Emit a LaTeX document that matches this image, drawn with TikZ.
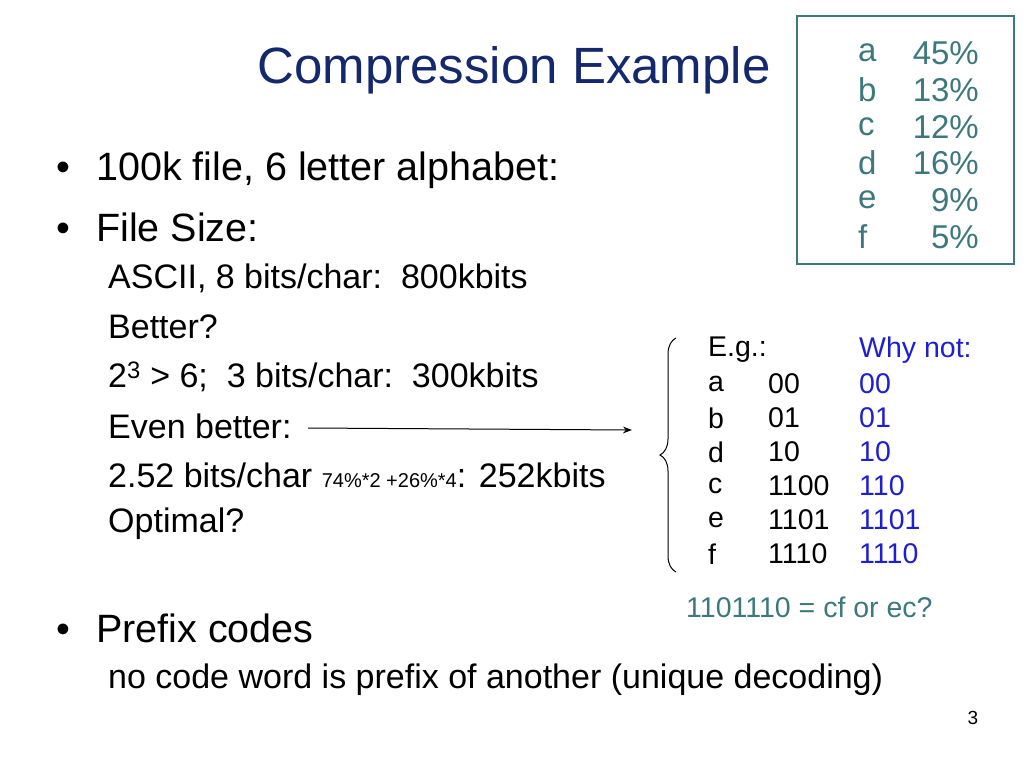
\documentclass[tikz,border=0pt]{standalone}
\usepackage{fontspec}
\setmainfont{Liberation Sans}
\usetikzlibrary{decorations.pathreplacing,arrows.meta}
\definecolor{navy}{RGB}{20,40,110}
\definecolor{teal}{RGB}{60,120,125}
\definecolor{tblue}{RGB}{30,30,210}
\begin{document}
\begin{tikzpicture}[x=1pt,y=-1pt,
 big/.style={anchor=west,inner sep=0,font=\fontsize{39.5}{42}\selectfont},
 dot/.style={anchor=base west,inner sep=0,font=\fontsize{39.5}{42}\selectfont},
 sub/.style={anchor=west,inner sep=0,font=\fontsize{34}{36}\selectfont},
 bx/.style={inner sep=0,text=teal,font=\fontsize{33}{35}\selectfont},
 tb/.style={anchor=west,inner sep=0,font=\fontsize{28.5}{30}\selectfont},
 tbb/.style={tb,text=tblue}]
\useasboundingbox (0,0) rectangle (1024,768);
\node[inner sep=0,text=navy,font=\fontsize{51}{54}\selectfont] (title) at (514,70) {Compression Example};
\node[big] (b1) at (96,170) {100k file, 6 letter alphabet:};
\node[dot] (d1) at ([xshift=-40pt]b1.base west) {•};
\node[big] (b2) at (96,227) {File Size:};
\node[dot] (d2) at ([xshift=-40pt]b2.base west) {•};
\node[sub] (s1) at (108,278) {ASCII, 8 bits/char:\ \ 800kbits};
\node[sub] (s2) at (108,327) {Better?};
\node[sub] (s3) at (108,377) {2\textsuperscript{3} > 6;\ \ 3 bits/char:\ \ 300kbits};
\node[sub] (s4) at (108,426) {Even better:};
\node[sub] (s5) at (108,475) {2.52 bits/char {\fontsize{20}{22}\selectfont 74\%*2 +26\%*4}: 252kbits};
\node[sub] (s6) at (108,524) {Optimal?};
\node[big] (b3) at (96,628) {Prefix codes};
\node[dot] (d3) at ([xshift=-40pt]b3.base west) {•};
\node[sub] (s7) at (108,680) {no code word is prefix of another (unique decoding)};
\node[inner sep=0,font=\fontsize{19}{21}\selectfont] (pg) at (973,718) {3};
\draw[teal,line width=2pt] (797,16) rectangle (1014,264);
\foreach \l/\p/\y in {a/45/53,b/13/90,c/12/127,d/16/163,e/9/200,f/5/237}{
 \node[bx,anchor=west] at (858,\y) {\l};
 \node[bx,anchor=east] at (979,\y) {\p\%};}
\node[tb] (eg) at (708,350) {E.g.:};
\node[tbb] (wn) at (859,350) {Why not:};
\foreach \l/\c/\w/\y in {a/00/00/384,b/01/01/418,d/10/10/452,c/1100/110/486,e/1101/1101/520,f/1110/1110/554}{
 \node[tb] at (708,\y) {\l};
 \node[tb] at (768,\y) {\c};
 \node[tbb] at (859,\y) {\w};}
\node[tb,text=teal] (q) at (686,607) {1101110 = cf or ec?};
\draw[decorate,decoration={brace,amplitude=16pt,aspect=0.5},line width=1pt] (676,572) -- (676,338);
\coordinate (tip) at (632,430);
\draw[-{Stealth[length=9pt]},line width=1pt] (308,428) -- (tip);
\end{tikzpicture}
\end{document}
